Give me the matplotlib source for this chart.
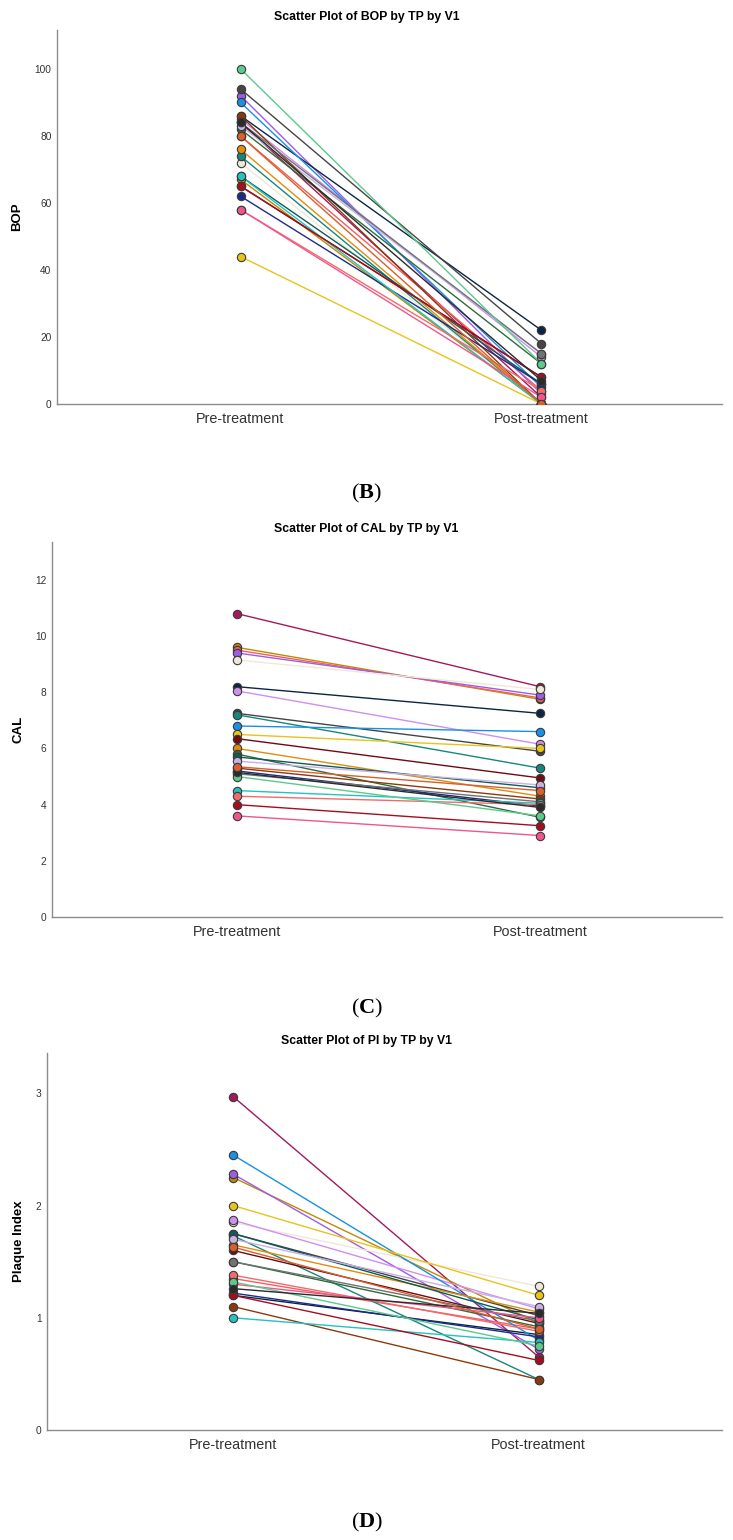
import matplotlib
matplotlib.use('Agg')
import matplotlib.pyplot as plt

plt.rcParams['font.family'] = ['Liberation Sans', 'DejaVu Sans']
plt.rcParams['mathtext.fontset'] = 'custom'
plt.rcParams['mathtext.rm'] = 'Liberation Serif'
plt.rcParams['mathtext.bf'] = 'Liberation Serif:bold'

# time points
time_points = ['Pre-treatment', 'Post-treatment']

# one colour per subject (V1)
subject_colors = [
    '#a3195b', '#c08a00', '#f25f5c', '#9d5ce6', '#efe8d6', '#0b2545',
    '#d08ef0', '#454545', '#17877d', '#1a8fe3', '#e8c31c', '#6e0b14',
    '#e38c0c', '#2f6b3c', '#0e5c57', '#c9b0e6', '#8b3a0f', '#1c2c85',
    '#6e7472', '#25c2c2', '#f26b6b', '#a50d1f', '#f0568c', '#5cc98d',
    '#2b2b2b', '#d95f2b',
]

bop_pre = [84, 67, 80, 92, 72, 86, 85, 94, 74, 90, 44, 65, 76, 82, 68, 83,
           86, 62, 84, 68, 58, 65, 58, 100, 84, 80]
bop_post = [2, 0, 4, 3, 0, 22, 14, 18, 0, 5, 0, 8, 0, 12, 6, 15,
            0, 6, 15, 0, 4, 8, 2, 12, 7, 0]

cal_pre = [10.8, 9.6, 9.5, 9.4, 9.15, 8.2, 8.05, 7.25, 7.2, 6.8, 6.5, 6.35,
           6.0, 5.8, 5.7, 5.55, 5.3, 5.2, 5.1, 4.5, 4.3, 4.0, 3.6, 5.0,
           5.15, 5.35]
cal_post = [8.2, 7.75, 7.8, 7.9, 8.1, 7.25, 6.15, 5.9, 5.3, 6.6, 6.0, 4.95,
            4.3, 3.55, 4.6, 4.7, 4.2, 3.95, 4.1, 4.05, 4.0, 3.25, 2.9, 3.6,
            3.9, 4.5]

pi_pre = [2.97, 2.25, 1.35, 2.28, 1.85, 1.2, 1.87, 1.75, 1.73, 2.45, 2.0, 1.6,
          1.65, 1.5, 1.75, 1.7, 1.1, 1.22, 1.5, 1.0, 1.38, 1.2, 1.3, 1.32,
          1.26, 1.63]
pi_post = [0.65, 0.95, 0.9, 0.72, 1.28, 0.85, 1.08, 1.02, 0.45, 0.8, 1.2, 0.95,
           1.05, 0.92, 0.98, 1.1, 0.45, 0.83, 0.97, 0.78, 0.88, 0.62, 1.0, 0.75,
           1.04, 0.9]

panels = [
    # title, ylabel, pre, post, ylim top, ticks, axes rect, title y, letter, letter y
    ('BOP', 'BOP', bop_pre, bop_post, 111.6, range(0, 101, 20),
     [57/733, 1-404/1540, 665/733, 374/1540], 17, 'B', 493),
    ('CAL', 'CAL', cal_pre, cal_post, 13.35, range(0, 13, 2),
     [52/733, 1-917/1540, 670/733, 375/1540], 529, 'C', 1008),
    ('PI', 'Plaque Index', pi_pre, pi_post, 3.36, range(0, 4),
     [47/733, 1-1430/1540, 675/733, 377/1540], 1041, 'D', 1522),
]

fig = plt.figure(figsize=(7.33, 15.4), dpi=100)

for name, ylab, pre, post, ytop, ticks, rect, ty, letter, ly in panels:
    ax = fig.add_axes(rect)
    # lines first, markers on top
    for i in range(len(pre)):
        ax.plot([0, 1], [pre[i], post[i]], color=subject_colors[i], lw=1.0,
                zorder=2)
    for i in range(len(pre)):
        ax.plot([0, 1], [pre[i], post[i]], ls='none', marker='o', ms=6,
                mfc=subject_colors[i], mec='#3a3a3a', mew=0.8, zorder=3)
    ax.set_xlim(-0.61, 1.60)
    ax.set_ylim(0, ytop)
    ax.set_xticks([0, 1])
    ax.set_xticklabels(time_points, fontsize=10.4, color='#333333')
    ax.set_yticks(list(ticks))
    ax.tick_params(axis='both', length=0)
    ax.tick_params(axis='y', labelsize=7.3, labelcolor='#333333', pad=4)
    ax.tick_params(axis='x', pad=6)
    ax.set_ylabel(ylab, fontsize=9.5, fontweight='bold', labelpad=8)
    for s in ['top', 'right']:
        ax.spines[s].set_visible(False)
    for s in ['left', 'bottom']:
        ax.spines[s].set_color('#8c8c8c')
        ax.spines[s].set_linewidth(1.0)
    fig.text(0.5, 1 - ty/1540, 'Scatter Plot of %s by TP by V1' % name,
             ha='center', va='center', fontsize=8.8, fontweight='bold')
    fig.text(0.5, 1 - ly/1540, r'$\mathrm{(}\mathbf{%s}\mathrm{)}$' % letter,
             ha='center', va='center', fontsize=16)

fig.savefig('out.png', dpi=100)
